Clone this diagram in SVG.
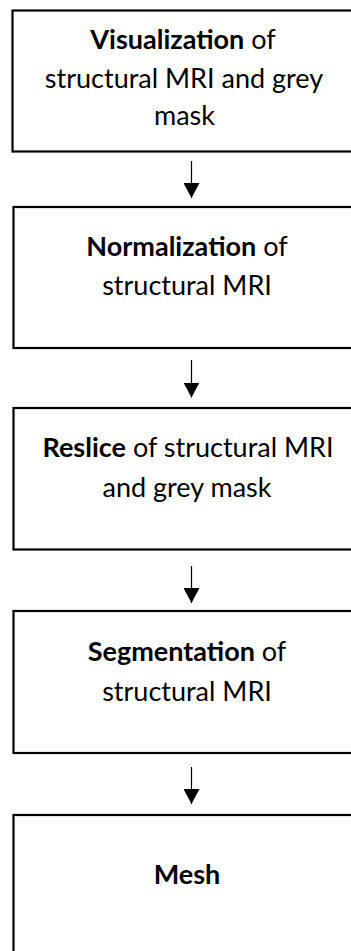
<svg xmlns="http://www.w3.org/2000/svg" width="351" height="951" viewBox="0 0 351 951">
<style>
.box{fill:#fff;stroke:#000;stroke-width:2.2}
.t{font-family:Lato,"Open Sans","Liberation Sans",sans-serif;font-size:27px;fill:#000;text-anchor:middle}
.b{font-weight:bold}
.c{stroke:#000;stroke-width:1.2;fill:none}
</style>
<defs>
<marker id="ah" viewBox="0 0 15 16" markerWidth="15" markerHeight="16" refX="15" refY="8" orient="auto" markerUnits="userSpaceOnUse">
<path d="M0,0 L15,8 L0,16 Z" fill="#000"/>
</marker>
</defs>
<rect width="351" height="951" fill="#fff"/>
<g id="connectors">
<line class="c" x1="191.5" y1="161" x2="191.5" y2="198" marker-end="url(#ah)"/>
<line class="c" x1="191.5" y1="360" x2="191.5" y2="397.5" marker-end="url(#ah)"/>
<line class="c" x1="191.5" y1="566" x2="191.5" y2="603" marker-end="url(#ah)"/>
<line class="c" x1="191.5" y1="767" x2="191.5" y2="804" marker-end="url(#ah)"/>
</g>
<g id="n1">
<rect class="box" x="12.5" y="10.5" width="345" height="141"/>
<text class="t" x="183" y="49"><tspan class="b">Visualization</tspan> of</text>
<text class="t" x="184" y="88">structural MRI and grey</text>
<text class="t" x="184.5" y="125">mask</text>
</g>
<g id="n2">
<rect class="box" x="13.5" y="207" width="345" height="141"/>
<text class="t" x="187" y="255.5"><tspan class="b">Normalization</tspan> of</text>
<text class="t" x="187" y="295">structural MRI</text>
</g>
<g id="n3">
<rect class="box" x="13.5" y="408" width="345" height="141.5"/>
<text class="t" x="188" y="456.5"><tspan class="b">Reslice</tspan> of structural MRI</text>
<text class="t" x="187" y="496.5">and grey mask</text>
</g>
<g id="n4">
<rect class="box" x="13.5" y="611" width="345" height="142"/>
<text class="t" x="187" y="660.5"><tspan class="b">Segmentation</tspan> of</text>
<text class="t" x="187" y="700.5">structural MRI</text>
</g>
<g id="n5">
<rect class="box" x="13.5" y="815" width="345" height="145"/>
<text class="t b" x="187" y="884">Mesh</text>
</g>
</svg>
